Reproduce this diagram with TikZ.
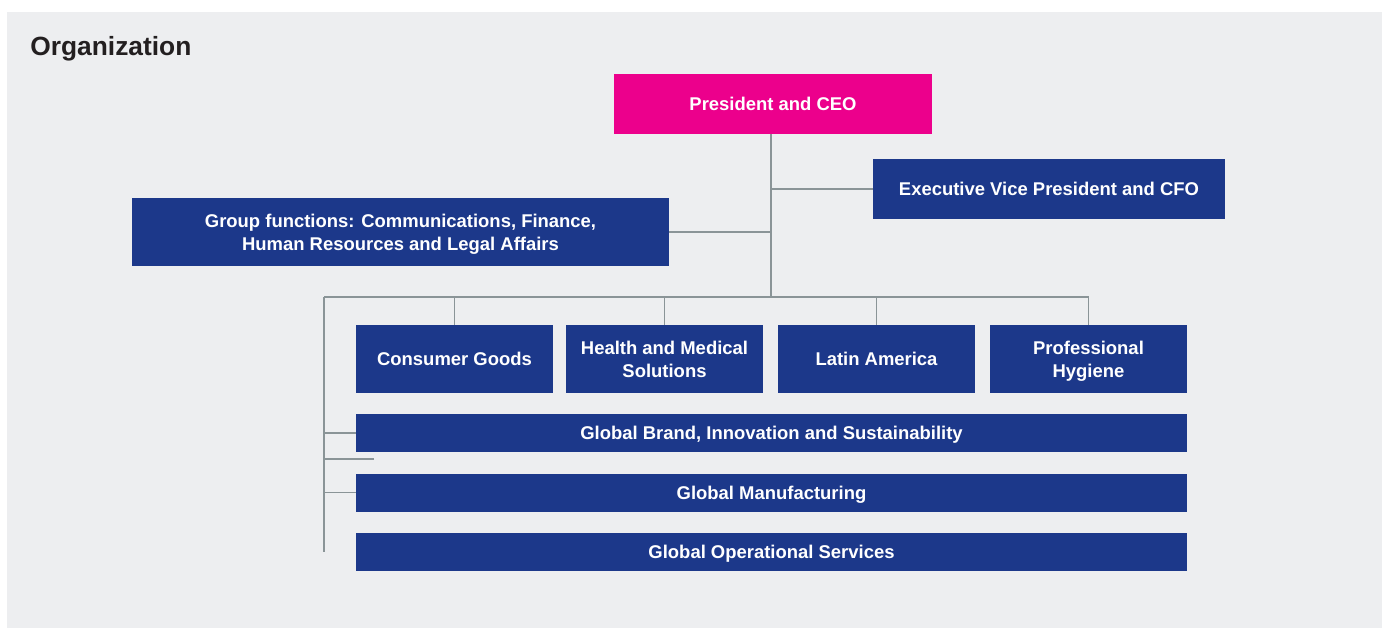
\documentclass[tikz,border=0pt]{standalone}
\usepackage{fontspec}
\setmainfont{Liberation Sans}
\usepackage{tikz}
\usetikzlibrary{positioning,calc}
\usepackage{xcolor}
\definecolor{panel}{HTML}{EDEEF0}
\definecolor{magenta}{HTML}{EC008C}
\definecolor{navy}{HTML}{1C388A}
\definecolor{wire}{HTML}{8A9497}
\definecolor{ink}{HTML}{231F20}

\tikzset{
  orgbox/.style={fill=navy, text=white, inner sep=0pt, align=center, text depth=0pt,
    font=\bfseries\fontsize{10.5}{13}\selectfont},
  headbox/.style={orgbox, fill=magenta},
  unitbox/.style={orgbox, minimum width=3.94cm, minimum height=1.36cm},
  globalbox/.style={orgbox, minimum width=16.62cm, minimum height=0.76cm},
  link/.style={draw=wire, line width=0.85pt},
}

\begin{document}
\begin{tikzpicture}[x=0.02cm, y=-0.02cm]
      \useasboundingbox (0,0) rectangle (1382,628);
      % Panel
      \fill[panel] (7,12) rectangle (1382,628);
      \node[anchor=west, inner sep=0pt, text=ink, font=\bfseries\fontsize{15}{18}\selectfont]
        (title) at (30,49) {Organization};
      % Top management
      \node[headbox, minimum width=6.36cm, minimum height=1.2cm] (ceo) at (773,104) {President and CEO};
      \node[orgbox, minimum width=7.04cm, minimum height=1.2cm] (cfo) at (1049,189) {Executive Vice President and CFO};
      \node[orgbox, minimum width=10.74cm, minimum height=1.36cm] (grp) at (400.5,232)
        {Group functions: Communications, Finance,\\Human Resources and Legal Affairs};
      % Business areas
      \node[unitbox] (cg) at (454.5,359) {Consumer Goods};
      \node[unitbox] (hm) at (664.5,359) {Health and Medical\\Solutions};
      \node[unitbox] (la) at (876.5,359) {Latin America};
      \node[unitbox] (ph) at (1088.5,359) {Professional\\Hygiene};
      % Global functions
      \node[globalbox] (gb) at (771.5,433) {Global Brand, Innovation and Sustainability};
      \node[globalbox] (gm) at (771.5,492.5) {Global Manufacturing};
      \node[globalbox] (go) at (771.5,552) {Global Operational Services};
      % Connectors
      \coordinate (busL) at (324,297);
      \coordinate (trunk) at (771,297);
      \coordinate (stub) at (374,459);
      \draw[link] (ceo.south -| trunk) -- (trunk);
      \draw[link] (cfo.west) -- (cfo.west -| trunk);
      \draw[link] (grp.east) -- (grp.east -| trunk);
      \draw[link] (busL) -- (ph.north |- busL);
      \foreach \u in {cg,hm,la,ph}{
        \draw[link] (\u.north) -- (\u.north |- busL);
      }
      \draw[link] (busL) -- (go.west -| busL);
      \draw[link] (gb.west) -- (gb.west -| busL);
      \draw[link] (gm.west) -- (gm.west -| busL);
      \draw[link] (stub) -- (stub -| busL);
    \end{tikzpicture}
\end{document}
